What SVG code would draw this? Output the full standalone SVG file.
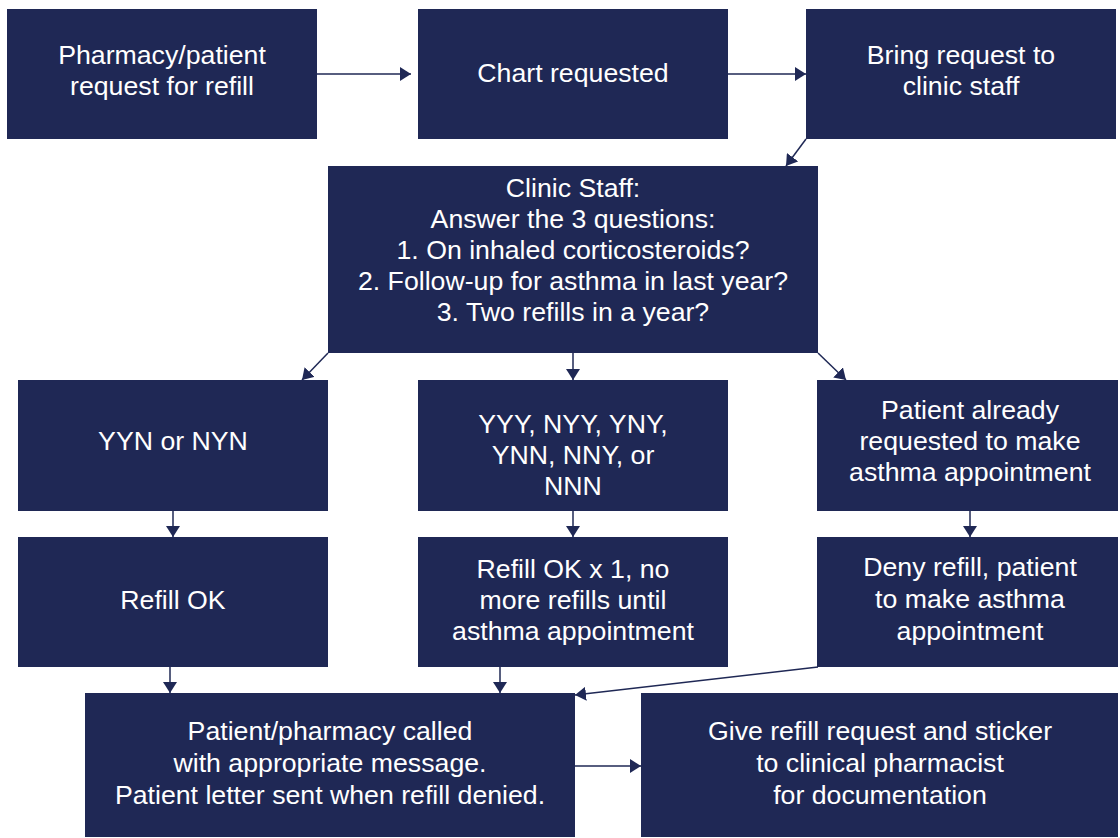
<svg xmlns="http://www.w3.org/2000/svg" width="1120" height="838" viewBox="0 0 1120 838">
<style>
.box{fill:#1f2855}
.t{fill:#ffffff;font-family:"Liberation Sans",Arial,sans-serif;font-size:26.7px;text-anchor:middle}
.c{stroke:#1f2855;stroke-width:1.5;fill:none}
</style>
<defs>
<marker id="ah" viewBox="0 0 11 14" refX="11" refY="7" markerWidth="11" markerHeight="14" markerUnits="userSpaceOnUse" orient="auto"><path d="M0,0 L11,7 L0,14 Z" fill="#1f2855"/></marker>
</defs>
<rect width="1120" height="838" fill="#ffffff"/>
<g id="connectors">
<line class="c" x1="317" y1="74" x2="411" y2="74" marker-end="url(#ah)" style="stroke-width:1.3"/>
<line class="c" x1="728" y1="74" x2="806" y2="74" marker-end="url(#ah)" style="stroke-width:1.3"/>
<line class="c" x1="806" y1="139" x2="786" y2="166" marker-end="url(#ah)"/>
<line class="c" x1="328" y1="353" x2="302" y2="380" marker-end="url(#ah)"/>
<line class="c" x1="573" y1="353" x2="573" y2="380" marker-end="url(#ah)"/>
<line class="c" x1="818" y1="353" x2="846" y2="380" marker-end="url(#ah)"/>
<line class="c" x1="173" y1="511" x2="173" y2="537" marker-end="url(#ah)"/>
<line class="c" x1="573" y1="511" x2="573" y2="537" marker-end="url(#ah)"/>
<line class="c" x1="970" y1="511" x2="970" y2="537" marker-end="url(#ah)"/>
<line class="c" x1="170" y1="667" x2="170" y2="693" marker-end="url(#ah)"/>
<line class="c" x1="500" y1="667" x2="500" y2="693" marker-end="url(#ah)"/>
<line class="c" x1="818" y1="667" x2="575" y2="695" marker-end="url(#ah)"/>
<line class="c" x1="575" y1="766" x2="641" y2="766" marker-end="url(#ah)"/>
</g>
<g id="n1"><rect class="box" x="7" y="9" width="310" height="130"/><text class="t" x="162" y="64">Pharmacy/patient</text><text class="t" x="162" y="95">request for refill</text></g>
<g id="n2"><rect class="box" x="418" y="9" width="310" height="130"/><text class="t" x="573" y="82">Chart requested</text></g>
<g id="n3"><rect class="box" x="806" y="9" width="310" height="130"/><text class="t" x="961" y="64">Bring request to</text><text class="t" x="961" y="95">clinic staff</text></g>
<g id="n4"><rect class="box" x="328" y="166" width="490" height="187"/>
<text class="t" x="573" y="197">Clinic Staff:</text>
<text class="t" x="573" y="228">Answer the 3 questions:</text>
<text class="t" x="573" y="259">1. On inhaled corticosteroids?</text>
<text class="t" x="573" y="290">2. Follow-up for asthma in last year?</text>
<text class="t" x="573" y="321">3. Two refills in a year?</text></g>
<g id="n5"><rect class="box" x="18" y="380" width="310" height="131"/><text class="t" x="173" y="450">YYN or NYN</text></g>
<g id="n6"><rect class="box" x="418" y="380" width="310" height="131"/><text class="t" x="573" y="433">YYY, NYY, YNY,</text><text class="t" x="573" y="464">YNN, NNY, or</text><text class="t" x="573" y="495">NNN</text></g>
<g id="n7"><rect class="box" x="817" y="380" width="301" height="131"/><text class="t" x="970" y="419">Patient already</text><text class="t" x="970" y="450">requested to make</text><text class="t" x="970" y="481">asthma appointment</text></g>
<g id="n8"><rect class="box" x="18" y="537" width="310" height="130"/><text class="t" x="173" y="609">Refill OK</text></g>
<g id="n9"><rect class="box" x="418" y="537" width="310" height="130"/><text class="t" x="573" y="578">Refill OK x 1, no</text><text class="t" x="573" y="609">more refills until</text><text class="t" x="573" y="640">asthma appointment</text></g>
<g id="n10"><rect class="box" x="817" y="537" width="301" height="130"/><text class="t" x="970" y="576">Deny refill, patient</text><text class="t" x="970" y="608">to make asthma</text><text class="t" x="970" y="640">appointment</text></g>
<g id="n11"><rect class="box" x="85" y="693" width="490" height="144"/><text class="t" x="330" y="740">Patient/pharmacy called</text><text class="t" x="330" y="772">with appropriate message.</text><text class="t" x="330" y="804">Patient letter sent when refill denied.</text></g>
<g id="n12"><rect class="box" x="641" y="693" width="477" height="144"/><text class="t" x="880" y="740">Give refill request and sticker</text><text class="t" x="880" y="772">to clinical pharmacist</text><text class="t" x="880" y="804">for documentation</text></g>
</svg>
